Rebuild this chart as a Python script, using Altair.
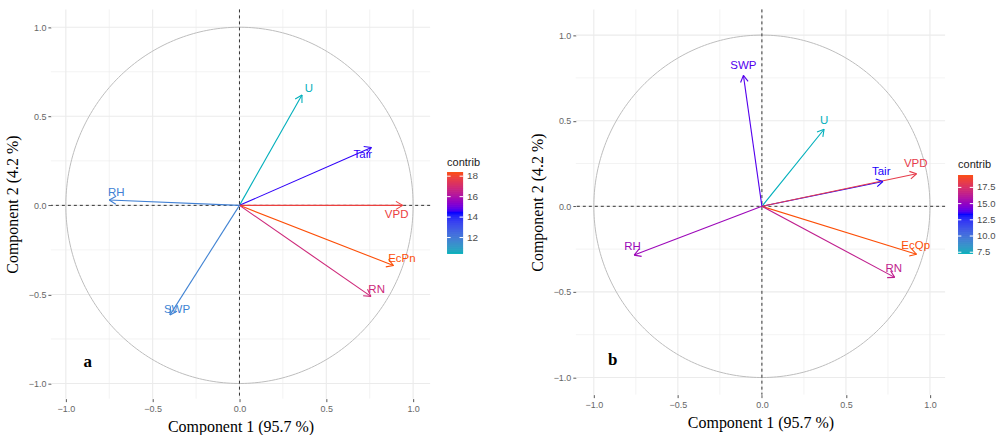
import altair as alt
import pandas as pd

# ---------------- data ----------------
VARS_A = ["U", "Tair", "RH", "VPD", "EcPn", "RN", "SWP"]
PC1_A = [0.36, 0.76, -0.75, 0.94, 0.887, 0.757, -0.40]
PC2_A = [0.62, 0.325, 0.03, 0.0, -0.338, -0.511, -0.615]
CONTRIB_A = [10.4, 14.5, 11.8, 17.8, 18.4, 16.8, 11.7]
LABX_A = [0.40, 0.71, -0.71, 0.905, 0.935, 0.79, -0.36]
LABY_A = [0.655, 0.28, 0.07, -0.055, -0.30, -0.475, -0.59]
LEGVALS_A = [12, 14, 16, 18]

VARS_B = ["SWP", "U", "Tair", "VPD", "RH", "EcQp", "RN"]
PC1_B = [-0.11, 0.37, 0.72, 0.92, -0.76, 0.92, 0.79]
PC2_B = [0.765, 0.45, 0.145, 0.19, -0.285, -0.28, -0.415]
CONTRIB_B = [13.8, 7.24, 13.4, 18.2, 15.2, 19.4, 16.4]
LABX_B = [-0.11, 0.37, 0.71, 0.915, -0.77, 0.915, 0.785]
LABY_B = [0.82, 0.50, 0.20, 0.245, -0.235, -0.23, -0.365]
LEGVALS_B = [7.5, 10.0, 12.5, 15.0, 17.5]

MAJOR = [-1.0, -0.5, 0.0, 0.5, 1.0]
MINOR = [-0.75, -0.25, 0.25, 0.75]
X_TITLE = "Component 1 (95.7 %)"
Y_TITLE = "Component 2 (4.2 %)"
LEGEND_TITLE = "contrib"

GRAD = ["#00AFBB", "#0000FF", "#FC4E07"]
SANS = "Liberation Sans"
SERIF = "Liberation Serif"


def color_scale(contrib):
    lo, hi = min(contrib), max(contrib)
    return alt.Scale(domain=[lo, (lo + hi) / 2, hi], range=GRAD, interpolate="lab")


def panel(vars_, pc1, pc2, contrib, labx, laby, letter, W, H, xdom, ydom, letter_xy):
    df = pd.DataFrame({"name": vars_, "x": pc1, "y": pc2, "contrib": contrib,
                       "lx": labx, "ly": laby})
    xs = alt.Scale(domain=xdom, nice=False, zero=False)
    ys = alt.Scale(domain=ydom, nice=False, zero=False)
    cscale = color_scale(contrib)
    xaxis = alt.Axis(values=MAJOR, format=".1f", grid=False, domain=False,
                     tickSize=3, tickColor="#555555", tickWidth=1,
                     labelFont=SANS, labelFontSize=9, labelColor="#666666", labelPadding=3,
                     title=X_TITLE, titleFont=SERIF, titleFontSize=16,
                     titleFontWeight="normal", titleColor="#000000", titlePadding=5)
    yaxis = alt.Axis(values=MAJOR, format=".1f", grid=False, domain=False,
                     tickSize=3, tickColor="#555555", tickWidth=1,
                     labelFont=SANS, labelFontSize=9, labelColor="#666666", labelPadding=2,
                     title=Y_TITLE, titleFont=SERIF, titleFontSize=16,
                     titleFontWeight="normal", titleColor="#000000", titlePadding=8)

    minor_df = pd.DataFrame({"v": MINOR})
    major_df = pd.DataFrame({"v": MAJOR})

    gmin_x = alt.Chart(minor_df).mark_rule(color="#EBEBEB", strokeWidth=0.6).encode(
        x=alt.X("v:Q", scale=xs, axis=xaxis))
    gmin_y = alt.Chart(minor_df).mark_rule(color="#EBEBEB", strokeWidth=0.6).encode(
        y=alt.Y("v:Q", scale=ys, axis=yaxis))
    gmaj_x = alt.Chart(major_df).mark_rule(color="#EBEBEB", strokeWidth=1.1).encode(
        x=alt.X("v:Q", scale=xs))
    gmaj_y = alt.Chart(major_df).mark_rule(color="#EBEBEB", strokeWidth=1.1).encode(
        y=alt.Y("v:Q", scale=ys))

    circle = alt.Chart(alt.sequence(0, 6.3, 0.02, as_="t")).transform_calculate(
        cx="cos(datum.t)", cy="sin(datum.t)"
    ).mark_line(color="#BDBDBD", strokeWidth=1).encode(
        x=alt.X("cx:Q", scale=xs), y=alt.Y("cy:Q", scale=ys), order="t:Q")

    zero_df = pd.DataFrame({"v": [0.0]})
    hz = alt.Chart(zero_df).mark_rule(color="#333333", strokeWidth=1, strokeDash=[3, 3]).encode(
        y=alt.Y("v:Q", scale=ys))
    vz = alt.Chart(zero_df).mark_rule(color="#333333", strokeWidth=1, strokeDash=[3, 3]).encode(
        x=alt.X("v:Q", scale=xs))

    color = alt.Color("contrib:Q", scale=cscale, legend=None)

    base = alt.Chart(df)
    arrows = base.transform_calculate(x0="0", y0="0").mark_rule(strokeWidth=1.1).encode(
        x=alt.X("x0:Q", scale=xs), y=alt.Y("y0:Q", scale=ys),
        x2="x:Q", y2="y:Q", color=color)
    L = 0.045
    head1 = base.transform_calculate(
        hx=f"datum.x - {L}*cos(atan2(datum.y, datum.x) - PI/6)",
        hy=f"datum.y - {L}*sin(atan2(datum.y, datum.x) - PI/6)",
    ).mark_rule(strokeWidth=1.1).encode(
        x=alt.X("x:Q", scale=xs), y=alt.Y("y:Q", scale=ys), x2="hx:Q", y2="hy:Q", color=color)
    head2 = base.transform_calculate(
        hx=f"datum.x - {L}*cos(atan2(datum.y, datum.x) + PI/6)",
        hy=f"datum.y - {L}*sin(atan2(datum.y, datum.x) + PI/6)",
    ).mark_rule(strokeWidth=1.1).encode(
        x=alt.X("x:Q", scale=xs), y=alt.Y("y:Q", scale=ys), x2="hx:Q", y2="hy:Q", color=color)
    labels = base.mark_text(font=SANS, fontSize=11.5, align="center", baseline="middle").encode(
        x=alt.X("lx:Q", scale=xs), y=alt.Y("ly:Q", scale=ys), text="name:N", color=color)

    letter_mark = alt.Chart(pd.DataFrame({"t": [letter]})).mark_text(
        font=SERIF, fontSize=17, fontWeight="bold", color="#000000",
        align="center", baseline="middle").encode(
        x=alt.value(letter_xy[0]), y=alt.value(letter_xy[1]), text="t:N")

    return alt.layer(gmin_x, gmin_y, gmaj_x, gmaj_y, circle, hz, vz,
                     arrows, head1, head2, labels, letter_mark).properties(width=W, height=H)


def colorbar(contrib, legvals, fmt, H, bar_top, bar_bottom, thick, title_y, label_size):
    """Continuous colour bar drawn with the chart's colour scale."""
    lo, hi = min(contrib), max(contrib)
    k = (hi - lo) / (bar_bottom - bar_top)          # value per pixel
    ydom = [lo - (H - bar_bottom) * k, hi + bar_top * k]
    ys = alt.Scale(domain=ydom, nice=False, zero=False)
    cscale = color_scale(contrib)
    step = (hi - lo) / 120
    grad = alt.Chart(alt.sequence(lo, hi, step, as_="v")).transform_calculate(
        v2=f"min(datum.v + {step * 2.0}, {hi})"
    ).mark_rect().encode(
        x=alt.value(0), x2=alt.value(thick),
        y=alt.Y("v:Q", scale=ys, axis=None), y2="v2:Q",
        color=alt.Color("v:Q", scale=cscale, legend=None))
    tick_df = pd.DataFrame({"v": legvals})
    tick_l = alt.Chart(tick_df).mark_rule(color="#FFFFFF", strokeWidth=1).encode(
        x=alt.value(0), x2=alt.value(thick * 0.22), y=alt.Y("v:Q", scale=ys, axis=None))
    tick_r = alt.Chart(tick_df).mark_rule(color="#FFFFFF", strokeWidth=1).encode(
        x=alt.value(thick * 0.78), x2=alt.value(thick), y=alt.Y("v:Q", scale=ys, axis=None))
    labs = alt.Chart(tick_df).mark_text(
        font=SANS, fontSize=label_size, color="#4D4D4D", align="left", baseline="middle"
    ).encode(x=alt.value(thick + 4), y=alt.Y("v:Q", scale=ys, axis=None),
             text=alt.Text("v:Q", format=fmt))
    title = alt.Chart(pd.DataFrame({"t": [LEGEND_TITLE]})).mark_text(
        font=SANS, fontSize=11, color="#1A1A1A", align="left", baseline="middle"
    ).encode(x=alt.value(0), y=alt.value(title_y), text="t:N")
    return alt.layer(grad, tick_l, tick_r, labs, title).properties(width=thick, height=H)


HA, HB = 390, 386
pa = panel(VARS_A, PC1_A, PC2_A, CONTRIB_A, LABX_A, LABY_A, "a",
           380, HA, [-1.086, 1.098], [-1.085, 1.10], (37, 353))
pb = panel(VARS_B, PC1_B, PC2_B, CONTRIB_B, LABX_B, LABY_B, "b",
           370, HB, [-1.107, 1.09], [-1.10, 1.15], (37, 351))
la = colorbar(CONTRIB_A, LEGVALS_A, "d", HA, 163, 245, 16, 153.5, 10)
lb = colorbar(CONTRIB_B, LEGVALS_B, ".1f", HB, 166, 245, 15, 156, 9.5)

left = alt.hconcat(pa, la, spacing=15).resolve_scale(
    color="independent", x="independent", y="independent")
right = alt.hconcat(pb, lb, spacing=11).resolve_scale(
    color="independent", x="independent", y="independent")

chart = alt.hconcat(left, right, spacing=48).resolve_scale(
    color="independent", x="independent", y="independent"
).properties(
    padding={"left": 4, "top": 8, "right": 0, "bottom": 0},
    background="#FFFFFF",
).configure_view(stroke=None, strokeWidth=0)

chart.save("out.html", embed_options={"renderer": "svg", "actions": False})
